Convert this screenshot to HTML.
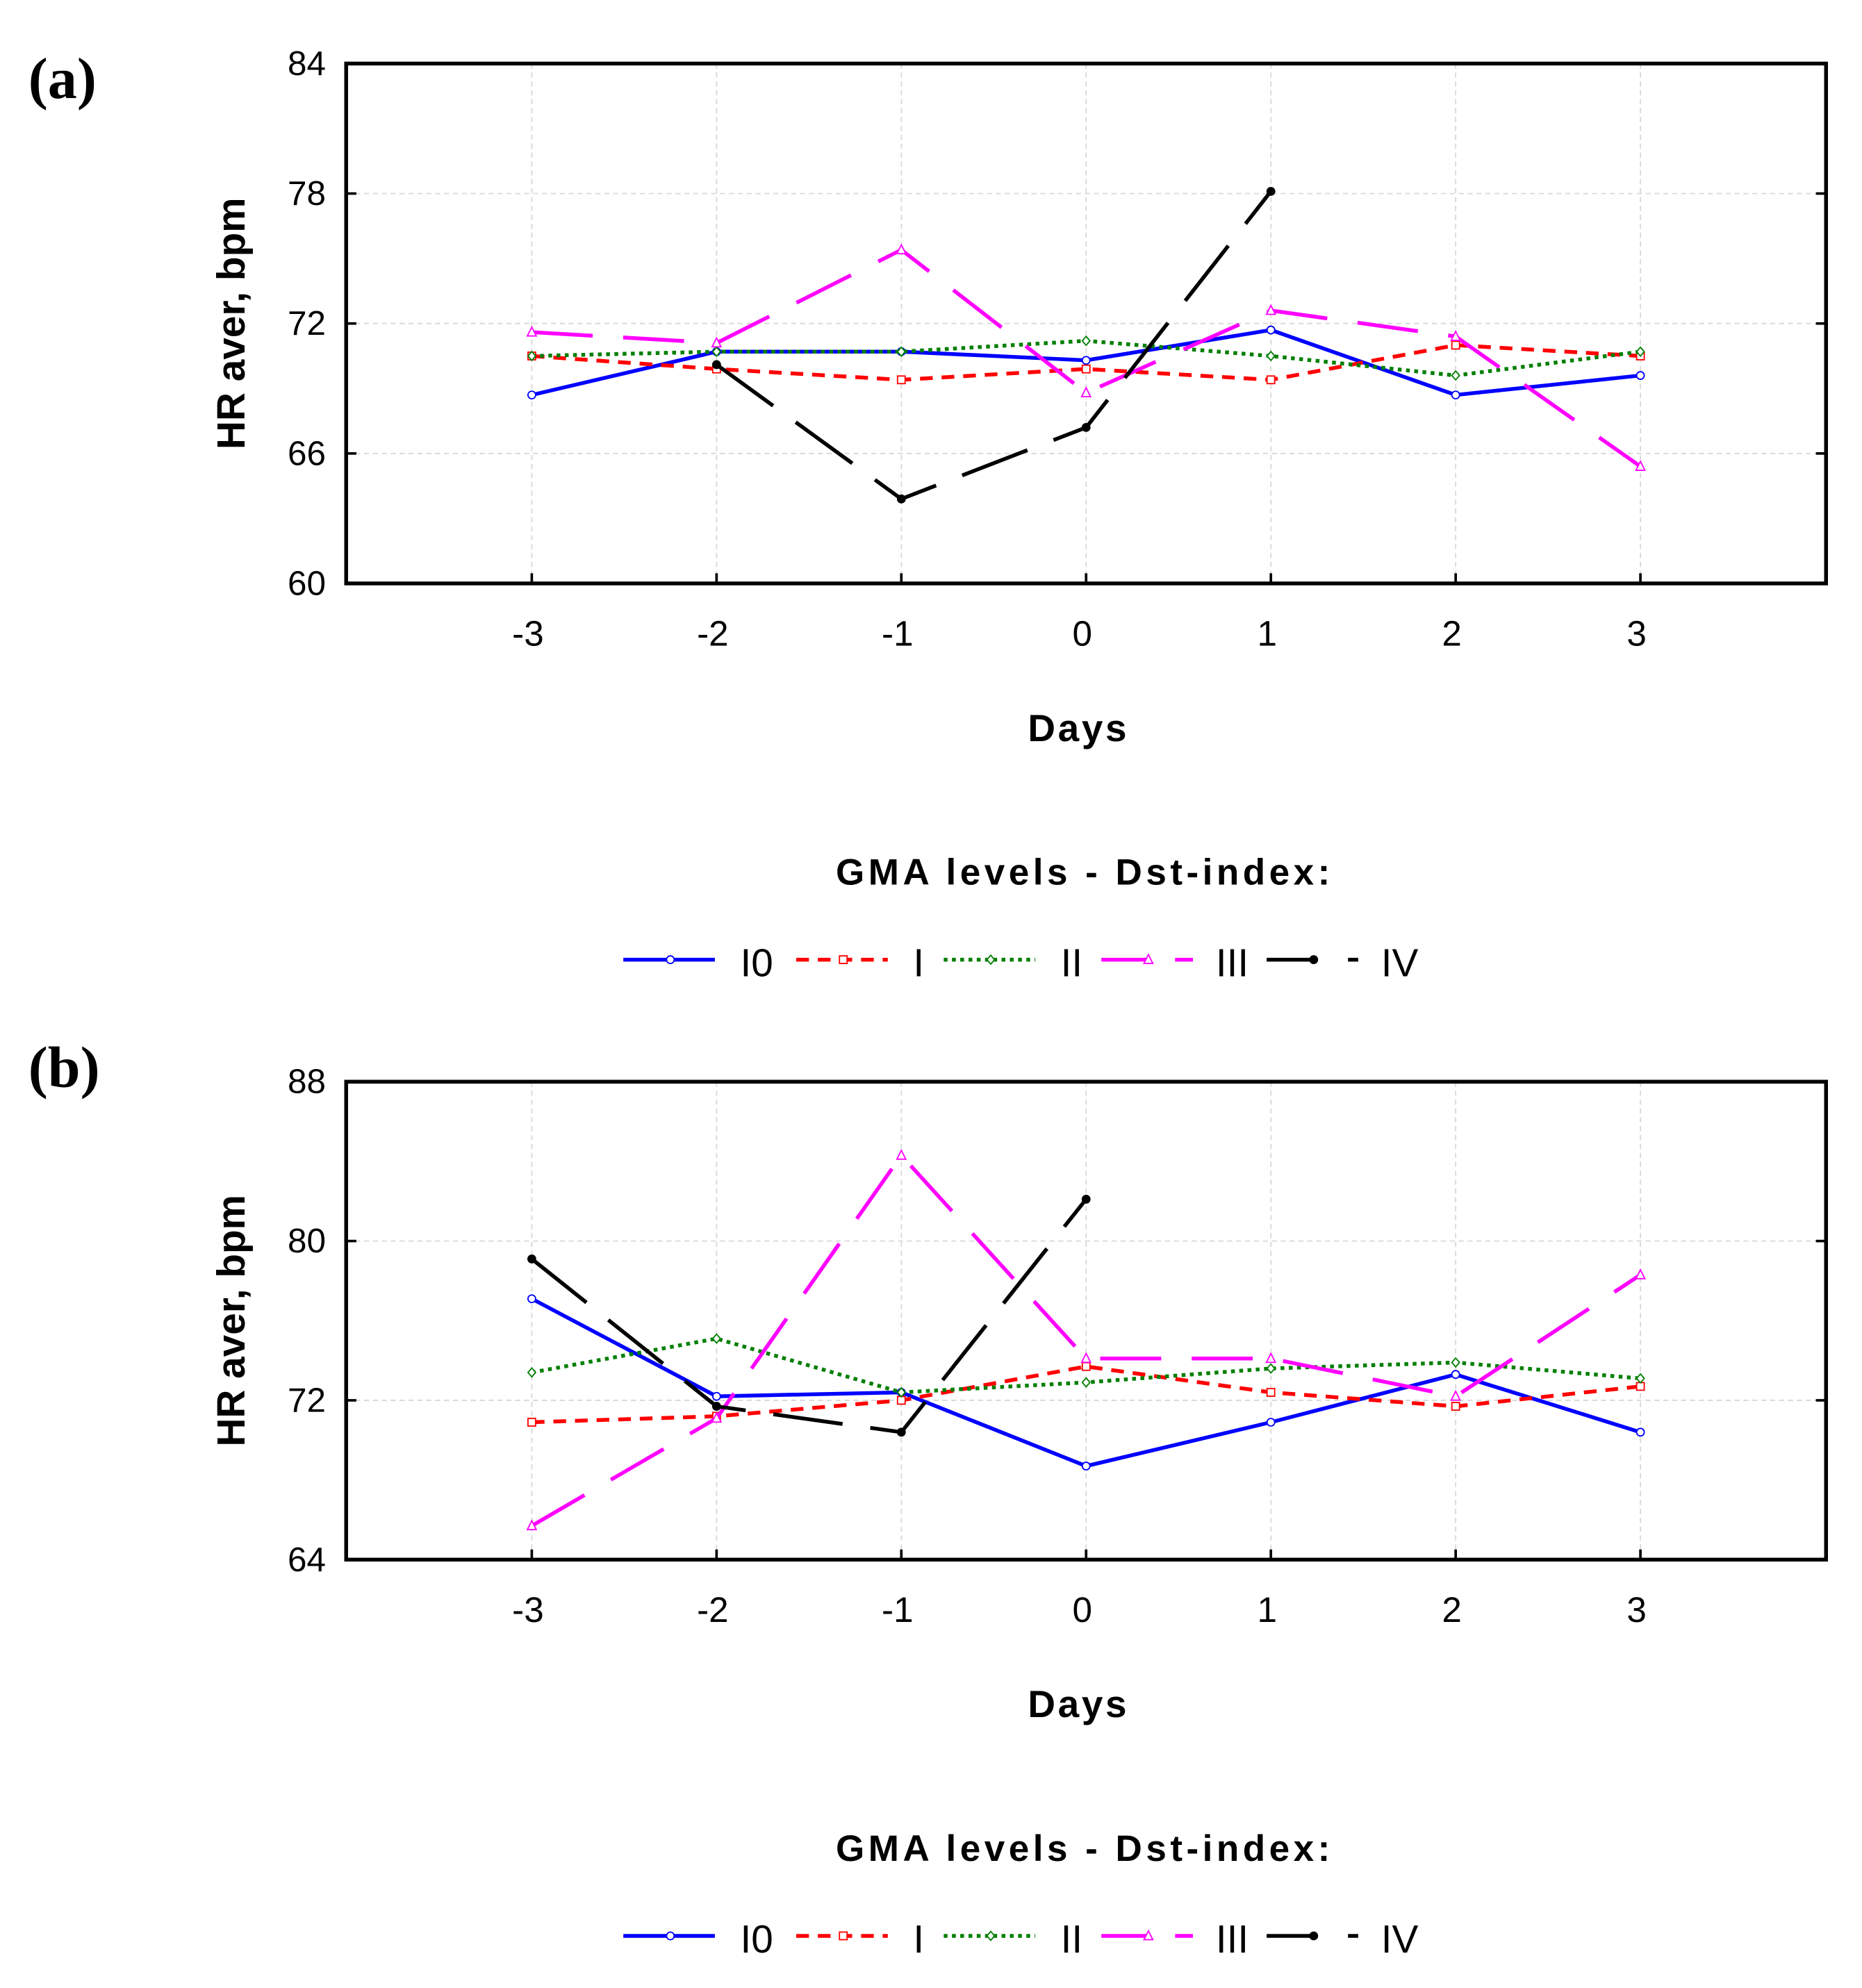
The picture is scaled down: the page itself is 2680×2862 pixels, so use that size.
<!DOCTYPE html>
<html><head><meta charset="utf-8"><style>
html,body{margin:0;padding:0;background:#fff}
svg{display:block}
text{font-family:"Liberation Sans","DejaVu Sans",sans-serif}
</style></head><body>
<svg id="chart" width="2680" height="2862" viewBox="0 0 1464 1564" xmlns="http://www.w3.org/2000/svg">
<rect width="1464" height="1564" fill="#fff"/>
</svg>
<script>
const days = [-3,-2,-1,0,1,2,3];
const seriesNames = ["I0","I","II","III","IV"];
const a_I0  = [68.7,70.7,70.7,70.3,71.7,68.7,69.6];
const a_I   = [70.5,69.9,69.4,69.9,69.4,71.0,70.5];
const a_II  = [70.5,70.7,70.7,71.2,70.5,69.6,70.7];
const a_III = [71.6,71.1,75.4,68.8,72.6,71.4,65.4];
const a_IV  = [null,70.1,63.9,67.2,78.1,null,null];
const b_I0  = [77.1,72.2,72.4,68.7,70.9,73.3,70.4];
const b_I   = [70.9,71.2,72.0,73.7,72.4,71.7,72.7];
const b_II  = [73.4,75.1,72.4,72.9,73.6,73.9,73.1];
const b_III = [65.7,71.1,84.3,74.1,74.1,72.2,78.3];
const b_IV  = [79.1,71.7,70.4,82.1,null,null,null];
const a_yTicks = [60,66,72,78,84];
const b_yTicks = [64,72,80,88];

const NS="http://www.w3.org/2000/svg";
const svg=document.getElementById('chart');
function mk(tag,attrs,parent){const e=document.createElementNS(NS,tag);for(const k in attrs)e.setAttribute(k,attrs[k]);(parent||svg).appendChild(e);return e;}
const styles=[
 {color:"#0000ff",dash:"",marker:"circle"},
 {color:"#ff0000",dash:"10,7",marker:"square"},
 {color:"#007f00",dash:"3,3.5",marker:"diamond"},
 {color:"#ff00ff",dash:"48,24",marker:"triangle"},
 {color:"#000000",dash:"55,22",marker:"dot"}
];
function marker(g,type,x,y,c){
  let m;
  if(type==="circle") m=mk('circle',{cx:x,cy:y,r:3,fill:"#fff",stroke:c,'stroke-width':1},g);
  else if(type==="square") m=mk('rect',{x:x-3,y:y-3,width:6,height:6,fill:"#fff",stroke:c,'stroke-width':1},g);
  else if(type==="diamond") m=mk('polygon',{points:`${x},${y-3.5} ${x+3},${y} ${x},${y+3.5} ${x-3},${y}`,fill:"#fff",stroke:c,'stroke-width':1},g);
  else if(type==="triangle") m=mk('polygon',{points:`${x},${y-4} ${x+3.5},${y+3} ${x-3.5},${y+3}`,fill:"#fff",stroke:c,'stroke-width':1},g);
  else m=mk('circle',{cx:x,cy:y,r:3.5,fill:c},g);
  
  
}
function panel(cfg){
  const {id,top,bottom,yTicks,series,label,labelY}=cfg;
  const L=272,R=1436;
  const ymin=yTicks[0],ymax=yTicks[yTicks.length-1];
  const xs=d=>418+(d-(-3))*(1290-418)/6;
  const ys=v=>bottom-(v-ymin)*(bottom-top)/(ymax-ymin);
  const g=mk('g',{});
  
  
  const lab=mk('text',{x:22,y:labelY,style:'font-family:"Liberation Serif",serif;font-size:46px;font-weight:bold'},g);
  lab.textContent=label;
  
  
  yTicks.forEach(t=>{
    if(t!==ymin&&t!==ymax){const l=mk('line',{x1:L,x2:R,y1:ys(t),y2:ys(t),stroke:"#d8d8d8",'stroke-width':1,'stroke-dasharray':'4,3'},g);
    }
    const tk=mk('line',{x1:L,x2:L+8,y1:ys(t),y2:ys(t),stroke:"#000",'stroke-width':2},g);
    
    const tk2=mk('line',{x1:R-8,x2:R,y1:ys(t),y2:ys(t),stroke:"#000",'stroke-width':2},g);
    
    const tx=mk('text',{x:256,y:ys(t)+9,'font-size':27,'text-anchor':'end'},g);
    tx.textContent=t;
    
  });
  days.forEach(d=>{
    const l=mk('line',{x1:xs(d),x2:xs(d),y1:top,y2:bottom,stroke:"#d8d8d8",'stroke-width':1,'stroke-dasharray':'4,3'},g);
    
    const tk=mk('line',{x1:xs(d),x2:xs(d),y1:bottom-8,y2:bottom,stroke:"#000",'stroke-width':2},g);
    
    const tx=mk('text',{x:xs(d)-3,y:bottom+49,'font-size':28,'text-anchor':'middle'},g);
    tx.textContent=d;
    
  });
  const box=mk('rect',{x:L,y:top,width:R-L,height:bottom-top,fill:'none',stroke:'#000','stroke-width':3},g);
  
  const yt=mk('text',{x:0,y:0,'font-size':31,'font-weight':'bold','text-anchor':'middle',transform:`translate(192,${(top+bottom)/2}) rotate(-90)`},g);
  yt.textContent="HR aver, bpm";
  
  const xt=mk('text',{x:848,y:bottom+124,'font-size':30,'font-weight':'bold','text-anchor':'middle','letter-spacing':2},g);
  xt.textContent="Days";
  
  series.forEach((vals,i)=>{
    const st=styles[i];
    const sg=mk('g',{},g);
    
    
    const pts=[];
    vals.forEach((v,j)=>{if(v!==null)pts.push([xs(days[j]),ys(v)]);});
    const p=mk('polyline',{points:pts.map(q=>q.join(',')).join(' '),fill:'none',stroke:st.color,'stroke-width':3,'stroke-dasharray':st.dash},sg);
    
    pts.forEach(q=>marker(sg,st.marker,q[0],q[1],st.color));
  });
  const lt=mk('text',{x:853,y:bottom+237,'font-size':29,'font-weight':'bold','text-anchor':'middle','letter-spacing':3},g);
  lt.textContent="GMA levels - Dst-index:";
  
  const ly=bottom+296;
  const starts=[490,626,742,866,996];
  const labels=["I0","I","II","III","IV"];
  const lx=[582,718,834,956,1086];
  labels.forEach((n,i)=>{
    const st=styles[i];
    const eg=mk('g',{},g);
    
    
    const l=mk('line',{x1:starts[i],x2:starts[i]+72,y1:ly,y2:ly,stroke:st.color,'stroke-width':3,'stroke-dasharray':i===3?'38,20':(i===4?'36,28':st.dash)},eg);
    
    marker(eg,st.marker,starts[i]+37,ly,st.color);
    const t=mk('text',{x:lx[i],y:ly+13,'font-size':31},eg);
    t.textContent=n;
    
  });
}
panel({id:'a',top:50,bottom:459,yTicks:a_yTicks,series:[a_I0,a_I,a_II,a_III,a_IV],label:"(a)",labelY:77});
panel({id:'b',top:851,bottom:1227,yTicks:b_yTicks,series:[b_I0,b_I,b_II,b_III,b_IV],label:"(b)",labelY:855});
</script>
</body></html>
